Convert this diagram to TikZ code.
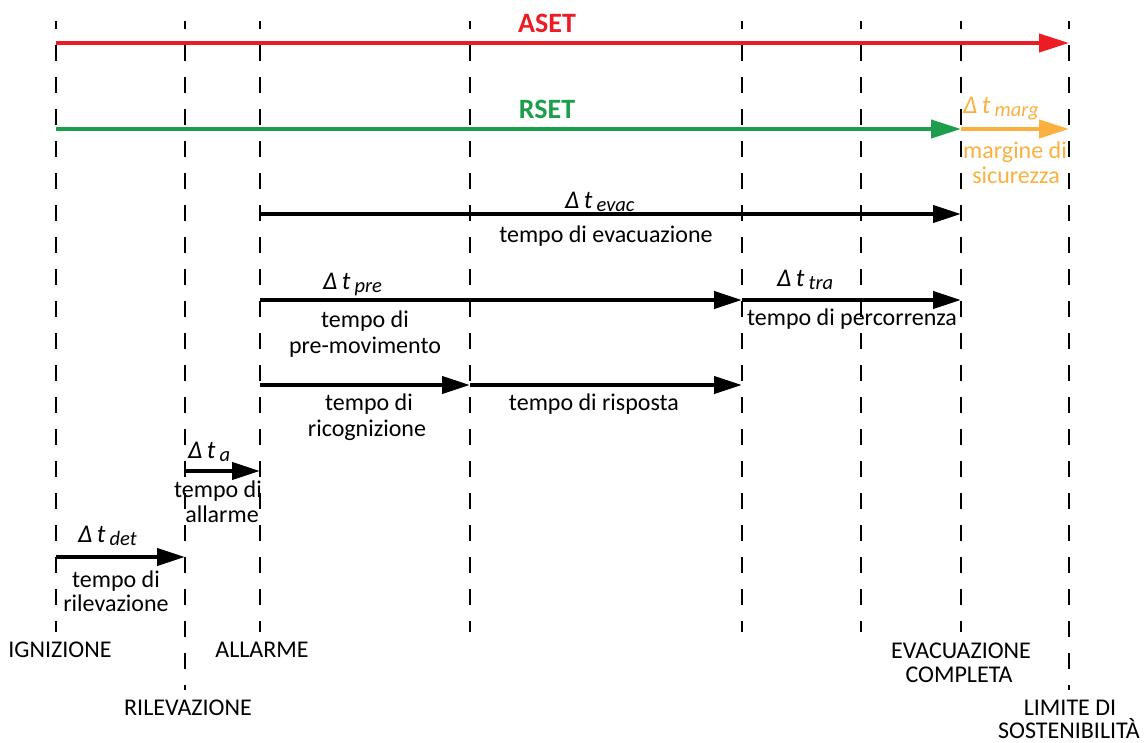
\documentclass[tikz,border=0pt]{standalone}
\usepackage{fontspec}
\setmainfont{Carlito}
\usetikzlibrary{arrows.meta}
\definecolor{asetred}{RGB}{237,28,36}
\definecolor{rsetgreen}{RGB}{28,158,74}
\definecolor{margorange}{RGB}{251,176,64}
\newcommand{\lblfont}{\fontsize{24}{25}\selectfont}
\newcommand{\dltfont}{\fontsize{25.5}{26}\selectfont}
\newcommand{\bigfont}{\fontsize{28}{30}\selectfont\bfseries}
\newcommand{\subfont}{\fontsize{20.5}{21}\selectfont}
\newcommand{\dlt}[1]{{\itshape Δ\,t\,\raisebox{-3pt}{\subfont #1}}}
\begin{document}
\begin{tikzpicture}[x=1pt,y=-1pt,
  vline/.style={line width=2pt, dash pattern=on 15.5pt off 16.5pt, dash phase=8pt},
  arr/.style={line width=4.3pt, -{Triangle[length=28pt,width=17pt]}},
  carr/.style={line width=4pt, -{Triangle[length=30pt,width=18pt]}},
  lbl/.style={inner sep=0pt, anchor=base, font=\lblfont},
  dl/.style={inner sep=0pt, anchor=base west, font=\dltfont}]
\useasboundingbox[fill=white] (0,0) rectangle (1148,742);

% coordinates of arrow ends
\coordinate (asetS) at (56,43);   \coordinate (asetE) at (1069,43);
\coordinate (rsetS) at (56,129);  \coordinate (rsetE) at (961,129);
\coordinate (margS) at (961,129); \coordinate (margE) at (1069,129);
\coordinate (evacS) at (260,214); \coordinate (evacE) at (961,214);
\coordinate (preS) at (260,300);  \coordinate (preE) at (742,300);
\coordinate (traS) at (742,300);  \coordinate (traE) at (961,300);
\coordinate (ricS) at (260,385);  \coordinate (ricE) at (470,385);
\coordinate (risS) at (470,385);  \coordinate (risE) at (742,385);
\coordinate (alS) at (185,471);   \coordinate (alE) at (260,471);
\coordinate (detS) at (56,557);   \coordinate (detE) at (185,557);

% arrows
\draw[carr, asetred] (asetS) -- (asetE);
\draw[carr, rsetgreen] (rsetS) -- (rsetE);
\draw[carr, margorange] (margS) -- (margE);
\draw[arr] (evacS) -- (evacE);
\draw[arr] (preS) -- (preE);
\draw[arr] (traS) -- (traE);
\draw[arr] (ricS) -- (ricE);
\draw[arr] (risS) -- (risE);
\draw[arr] (alS) -- (alE);
\draw[arr] (detS) -- (detE);

% titles
\node[lbl, font=\bigfont, text=asetred] (aset) at (547,32) {ASET};
\node[lbl, font=\bigfont, text=rsetgreen] (rset) at (547,118) {RSET};

% delta labels
\node[dl, text=margorange] (dmarg) at (963,113) {\dlt{marg}};
\node[dl] (devac) at (565,208) {\dlt{evac}};
\node[dl] (dpre) at (323,289) {\dlt{pre}};
\node[dl] (dtra) at (777,286) {\dlt{tra}};
\node[dl] (da) at (188,458) {\dlt{a}};
\node[dl] (ddet) at (78,542) {\dlt{det}};

% descriptions
\node[lbl, text=margorange] (marg1) at (1015,158) {margine di};
\node[lbl, text=margorange] (marg2) at (1016,183) {sicurezza};
\node[lbl] (evac1) at (606,242) {tempo di evacuazione};
\node[lbl] (pre1) at (365,327) {tempo di};
\node[lbl] (pre2) at (365,353) {pre-movimento};
\node[lbl] (tra1) at (852,325) {tempo di percorrenza};
\node[lbl] (ric1) at (369,410) {tempo di};
\node[lbl] (ric2) at (367,436) {ricognizione};
\node[lbl] (ris1) at (594,410) {tempo di risposta};
\node[lbl] (al1) at (218,497) {tempo di};
\node[lbl] (al2) at (222,522) {allarme};
\node[lbl] (det1) at (116,587) {tempo di};
\node[lbl] (det2) at (116,611) {rilevazione};

% event labels
\node[lbl] (ign) at (60,657) {IGNIZIONE};
\node[lbl] (ril) at (188,715) {RILEVAZIONE};
\node[lbl] (all) at (262,657) {ALLARME};
\node[lbl] (evc1) at (961,658) {EVACUAZIONE};
\node[lbl] (evc2) at (959,682) {COMPLETA};
\node[lbl] (lim1) at (1070,715) {LIMITE DI};
\node[lbl] (lim2) at (1069,738) {SOSTENIBILITÀ};

% vertical dashed time lines
\foreach \x/\e in {56/632,185/690,260/632,470/632,742/632,861/632,961/632,1069/690}
  \draw[vline] (\x,21) -- (\x,\e);
\end{tikzpicture}
\end{document}
